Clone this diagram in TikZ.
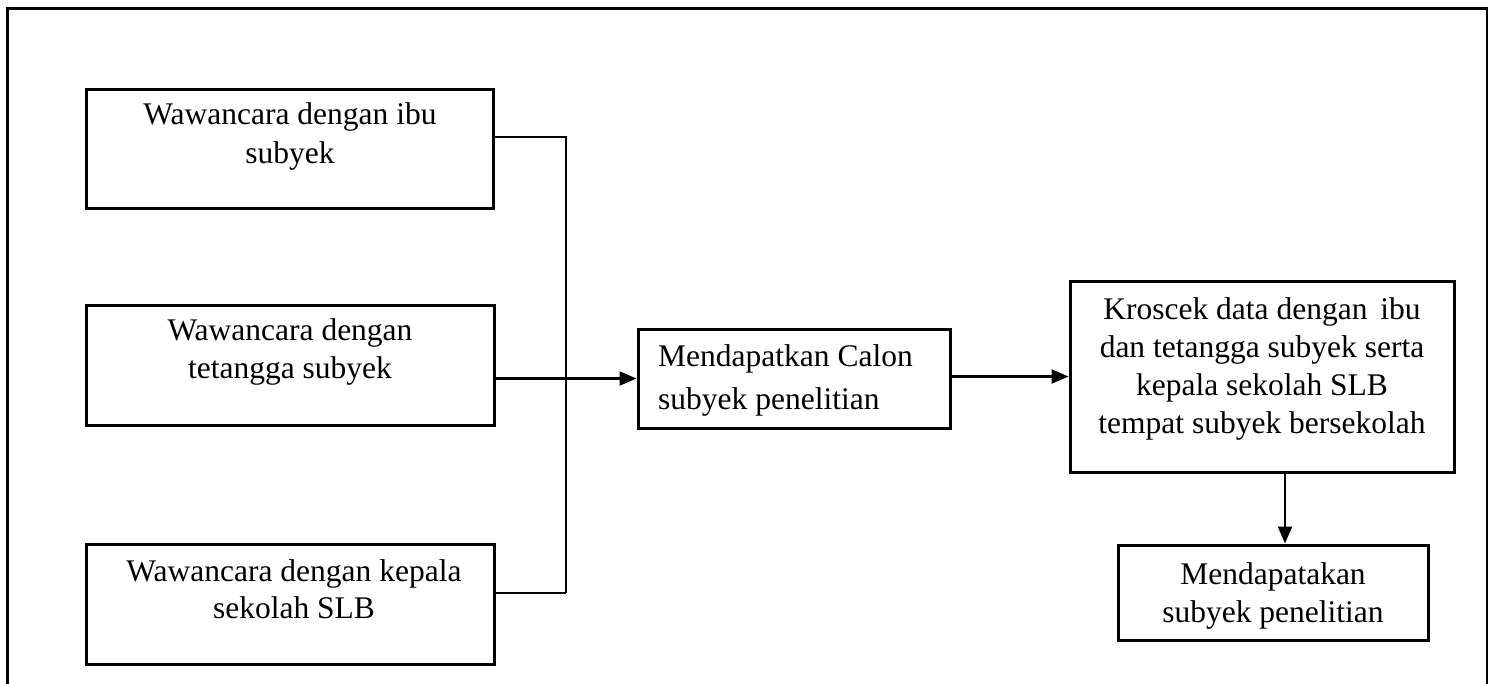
\documentclass[tikz,border=0pt]{standalone}
\usepackage{fontspec}
\setmainfont{Liberation Serif}
\usetikzlibrary{arrows.meta}
\tikzset{
  boxnode/.style={draw, line width=3pt, rectangle, inner sep=0pt},
  txt/.style={inner sep=0pt, align=center},
  conn/.style={line width=2.3pt},
  arr/.style={line width=2.3pt, -{Triangle[length=17pt,width=14pt]}},
}
\newcommand{\fnt}[1]{\fontsize{31.5}{#1}\selectfont}
\newcommand{\tstrut}{\rule{0pt}{24pt}}
\begin{document}
\begin{tikzpicture}[x=1pt,y=-1pt]
\useasboundingbox (0,0) rectangle (1491,683);
% outer frame
\draw[line width=2.3pt] (7.5,695) -- (7.5,8.5) -- (1487,8.5) -- (1487,695);
% boxes
\node[boxnode, minimum width=407pt, minimum height=119pt] (b1) at (289.5,148.5) {};
\node[boxnode, minimum width=408pt, minimum height=120pt] (b2) at (290,365) {};
\node[boxnode, minimum width=408pt, minimum height=120pt] (b3) at (290,604) {};
\node[boxnode, minimum width=312pt, minimum height=99pt] (b4) at (794,378.5) {};
\node[boxnode, minimum width=384pt, minimum height=191pt] (b5) at (1262,376.5) {};
\node[boxnode, minimum width=310pt, minimum height=95pt] (b6) at (1273,592.5) {};
% texts
\node[txt, anchor=north, font=\fnt{39}] (t1) at (290,100) {\tstrut Wawancara dengan ibu\\subyek};
\node[txt, anchor=north, font=\fnt{38}] (t2) at (290,316) {\tstrut Wawancara dengan\\tetangga subyek};
\node[txt, anchor=north, font=\fnt{37}] (t3) at (294,557) {\tstrut Wawancara dengan kepala\\sekolah SLB};
\node[txt, anchor=north west, align=left, font=\fnt{43}] (t4) at (658,342) {\tstrut Mendapatkan Calon\\subyek penelitian};
\node[txt, anchor=north, font=\fnt{38}] (t5) at (1262,295) {\tstrut Kroscek data dengan\hspace{5pt} ibu\\dan tetangga subyek serta\\kepala sekolah SLB\\tempat subyek bersekolah};
\node[txt, anchor=north, font=\fnt{38}] (t6) at (1273,560) {\tstrut Mendapatakan\\subyek penelitian};
% junction coordinates
\coordinate (j1) at (566,137);
\coordinate (j3) at (566,593);
\coordinate (k5) at (1285,472);
% connectors
\draw[conn] (b1.east |- j1) -- (j1) -- (j3);
\draw[conn] (b3.east |- j3) -- (j3);
\draw[arr] (b2.east |- b4.west) -- (b4.west);
\draw[arr] (b4.east |- b5.west) -- (b5.west);
\draw[arr] (k5) -- (k5 |- b6.north);
\end{tikzpicture}
\end{document}
